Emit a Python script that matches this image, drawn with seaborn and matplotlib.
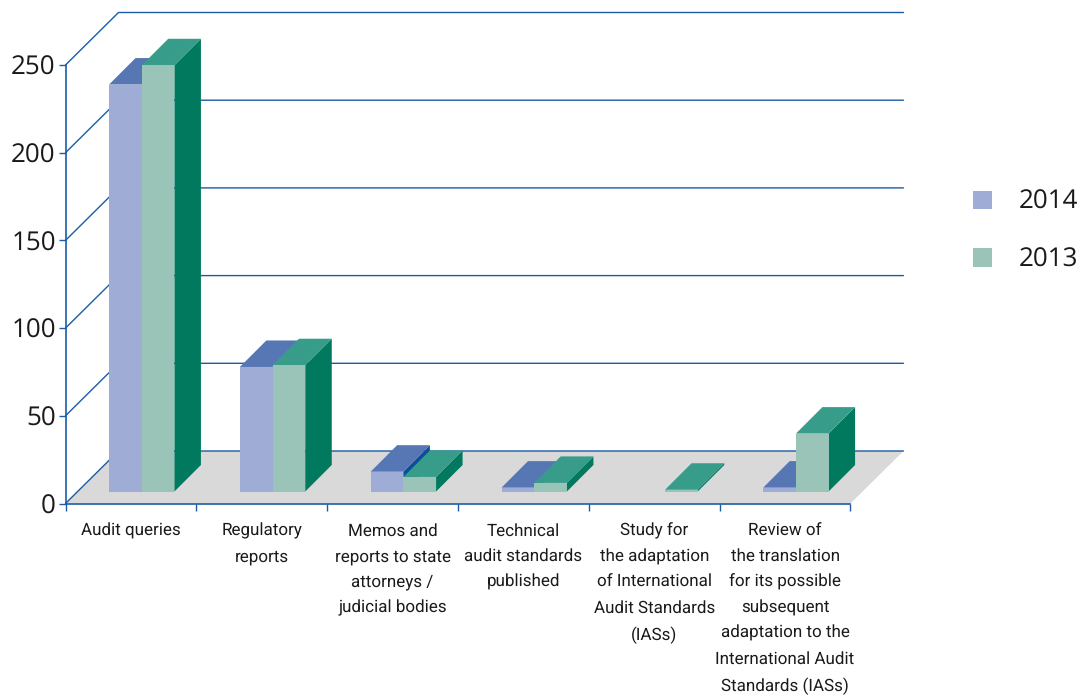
import matplotlib
matplotlib.use("Agg")
import matplotlib.pyplot as plt
from matplotlib.patches import Patch, Polygon
import numpy as np
import pandas as pd
import seaborn as sns

categories = ["Audit queries", "Regulatory\nreports",
              "Memos and\nreports to state\nattorneys /\njudicial bodies",
              "Technical\naudit standards\npublished",
              "Study for\nthe adaptation\nof International\nAudit Standards\n(IASs)",
              "Review of\nthe translation\nfor its possible\nsubsequent\nadaptation to the\nInternational Audit\nStandards (IASs)"]
years = ["2014", "2013"]
values_2014 = [232, 71, 11.3, 2.2, 0, 2.2]
values_2013 = [243, 72, 8.3, 4.9, 1, 33]
y_ticks = [0, 50, 100, 150, 200, 250]

front_colors = {"2014": "#9facd6", "2013": "#9ac4b8"}
top_colors = {"2014": "#5676b4", "2013": "#379c89"}
side_colors = {"2014": "#0a4ea0", "2013": "#00795e"}
line_color = "#1b5ca6"
floor_color = "#d9d9d9"

W, H = 1082, 695
sns.set_style("white")
narrow = ["Roboto", "Liberation Sans"]
plt.rcParams["font.family"] = ["Open Sans", "DejaVu Sans"]
plt.rcParams["text.hinting"] = "no_hinting"
plt.rcParams["text.hinting_factor"] = 1

df = pd.DataFrame({
    "category": categories * 2,
    "year": [years[0]] * 6 + [years[1]] * 6,
    "value": values_2014 + values_2013,
})

fig = plt.figure(figsize=(W / 100, H / 100), dpi=100)
L, R, T, B = 65.5, 850.5, 65, 503.5
ax = fig.add_axes([L / W, 1 - B / H, (R - L) / W, (B - T) / H])

sns.barplot(data=df, x="category", y="value", hue="year", hue_order=years,
            palette=front_colors, width=0.5, gap=0, saturation=1, legend=False, ax=ax)
ax.set_xlim(-0.5, 5.5)
ax.set_ylim(0, 250)
ax.set_xlabel("")
ax.set_ylabel("")

# pixels to data units for the oblique projection
px = 6.0 / (R - L)
py = 250.0 / (B - T)
ox, oy = 10.8 * px, 12.0 * py      # bar front relative to the axis plane
dx, dy = 26.5 * px, 26.5 * py      # bar depth
wx, wy = 53.0 * px, 52.5 * py      # back wall relative to the axis plane

# floor and wall lines
ax.add_patch(Polygon([(-0.5, 0), (5.5, 0), (5.5 + wx, wy), (-0.5 + wx, wy)],
                     closed=True, fc=floor_color, ec="none", zorder=1, clip_on=False))
for v in y_ticks:
    ax.plot([-0.5, -0.5 + wx, 5.5 + wx], [v, v + wy, v + wy], color=line_color,
            lw=1.0, zorder=1.5, clip_on=False, solid_joinstyle="miter")

for s, (year, cont) in enumerate(zip(years, ax.containers)):
    for g, bar in enumerate(cont.patches):
        h = bar.get_height()
        x0 = bar.get_x() + ox
        w = bar.get_width()
        bar.set_x(x0)
        bar.set_y(oy)
        bar.set_clip_on(False)
        bar.set_linewidth(0)
        bar.set_zorder(3 + s + 0.3)
        if h <= 0:
            bar.set_visible(False)
            continue
        y1 = oy + h
        ax.add_patch(Polygon([(x0 + w, oy), (x0 + w + dx, oy + dy), (x0 + w + dx, y1 + dy), (x0 + w, y1)],
                             closed=True, fc=side_colors[year], ec="none", zorder=3 + s, clip_on=False))
        ax.add_patch(Polygon([(x0, y1), (x0 + w, y1), (x0 + w + dx, y1 + dy), (x0 + dx, y1 + dy)],
                             closed=True, fc=top_colors[year], ec="none", zorder=3 + s + 0.1, clip_on=False))

sns.despine(ax=ax, top=True, right=True)
for sp in ("left", "bottom"):
    ax.spines[sp].set_color(line_color)
    ax.spines[sp].set_linewidth(1.2)
    ax.spines[sp].set_zorder(6)

ax.set_yticks(y_ticks)
ax.tick_params(axis="y", length=5, width=1.0, color=line_color, labelsize=18.5,
               labelcolor="#1a1a1a", pad=2, left=True)
ax.set_xticks(np.arange(-0.5, 6.0, 1.0), minor=True)
ax.set_xticks(range(6))
ax.set_xticklabels(categories, fontfamily=narrow, fontsize=12.1, color="#1a1a1a", linespacing=1.73)
ax.tick_params(axis="x", which="major", length=0, pad=14)
ax.tick_params(axis="x", which="minor", length=5, width=1.0, color=line_color, bottom=True)

handles = [Patch(fc=front_colors[y], ec="none", label=y) for y in years]
leg = fig.legend(handles=handles, loc="center left", bbox_to_anchor=(973 / W, 1 - 231 / H),
                 frameon=False, fontsize=18.5, handlelength=0.74, handleheight=0.74,
                 handletextpad=1.05, labelspacing=1.24, labelcolor="#1a1a1a",
                 borderpad=0, borderaxespad=0)

fig.savefig("out.png", dpi=100, facecolor="white")
